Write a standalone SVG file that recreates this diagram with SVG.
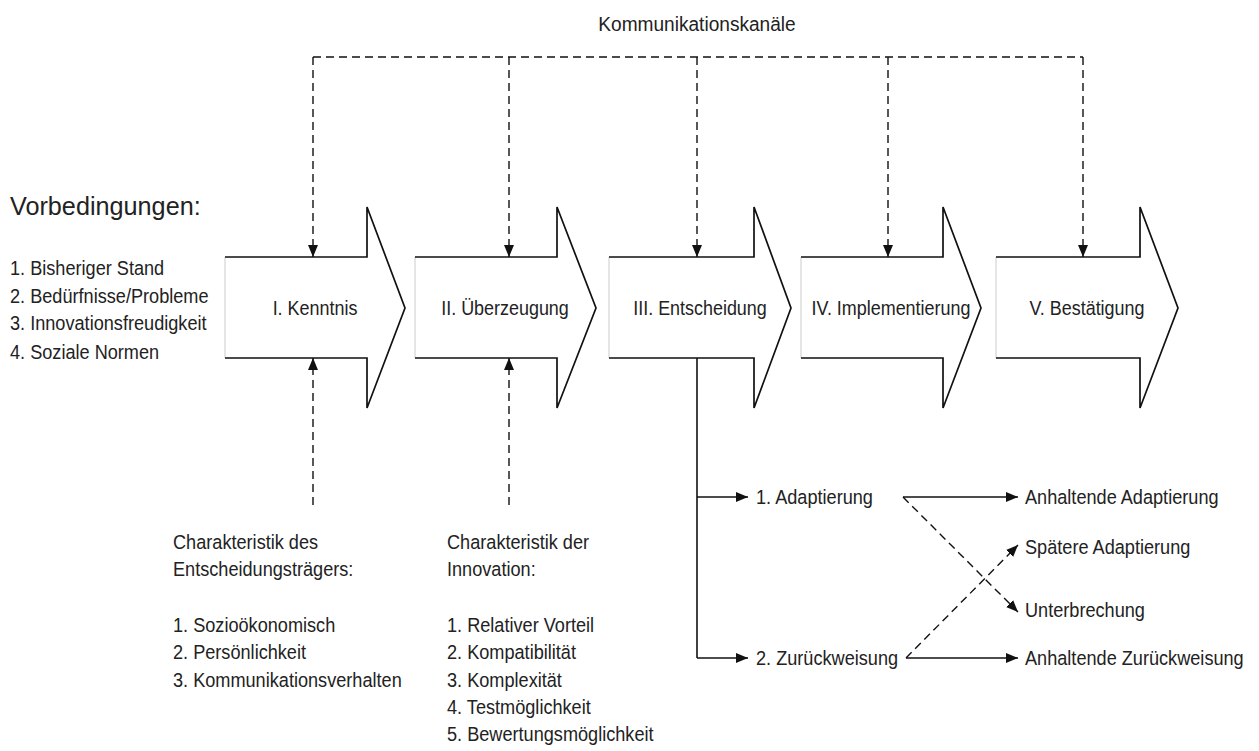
<svg xmlns="http://www.w3.org/2000/svg" width="1259" height="751" viewBox="0 0 1259 751">
  <defs>
    <marker id="head" viewBox="0 0 12 10" refX="12" refY="5" markerWidth="12" markerHeight="10" markerUnits="userSpaceOnUse" orient="auto">
      <path d="M0,0 L12,5 L0,10 Z" fill="#111"/>
    </marker>
    <style>
      text { font-family: "Liberation Sans", Arial, sans-serif; fill: #222; font-size: 20.5px; }
      .lbl { text-anchor: middle; }
      .title { font-size: 26px; }
      .kk { font-size: 21px; text-anchor: middle; }
      .stage { fill: #fff; stroke: none; }
      .edge { fill: none; stroke: #111; stroke-width: 1.7; }
      .faint { fill: none; stroke: #ccc; stroke-width: 1; }
      .solid { fill: none; stroke: #111; stroke-width: 1.6; }
      .dash { fill: none; stroke: #111; stroke-width: 1.4; stroke-dasharray: 8 5; }
    </style>
  </defs>

  <rect width="1259" height="751" fill="#fff"/>

  <!-- process stages -->
  <g id="stage1">
    <polygon class="stage" points="225,257 367,257 367,207 405,308 367,408 367,358 225,358"/>
    <line class="faint" x1="225" y1="257" x2="225" y2="358"/>
    <polyline class="edge" points="225,257 367,257 367,207 405,308 367,408 367,358 225,358"/>
    <text class="lbl" transform="translate(315 315) scale(0.875 1)">I. Kenntnis</text>
  </g>
  <g id="stage2">
    <polygon class="stage" points="415,257 557,257 557,207 596,308 557,408 557,358 415,358"/>
    <line class="faint" x1="415" y1="257" x2="415" y2="358"/>
    <polyline class="edge" points="415,257 557,257 557,207 596,308 557,408 557,358 415,358"/>
    <text class="lbl" transform="translate(505 315) scale(0.875 1)">II. Überzeugung</text>
  </g>
  <g id="stage3">
    <polygon class="stage" points="609,257 754,257 754,207 791,308 754,408 754,358 609,358"/>
    <line class="faint" x1="609" y1="257" x2="609" y2="358"/>
    <polyline class="edge" points="609,257 754,257 754,207 791,308 754,408 754,358 609,358"/>
    <text class="lbl" transform="translate(700 315) scale(0.875 1)">III. Entscheidung</text>
  </g>
  <g id="stage4">
    <polygon class="stage" points="801,257 943,257 943,207 981,308 943,408 943,358 801,358"/>
    <line class="faint" x1="801" y1="257" x2="801" y2="358"/>
    <polyline class="edge" points="801,257 943,257 943,207 981,308 943,408 943,358 801,358"/>
    <text class="lbl" transform="translate(891 315) scale(0.875 1)">IV. Implementierung</text>
  </g>
  <g id="stage5">
    <polygon class="stage" points="996,257 1140,257 1140,207 1178,308 1140,408 1140,358 996,358"/>
    <line class="faint" x1="996" y1="257" x2="996" y2="358"/>
    <polyline class="edge" points="996,257 1140,257 1140,207 1178,308 1140,408 1140,358 996,358"/>
    <text class="lbl" transform="translate(1087 315) scale(0.875 1)">V. Bestätigung</text>
  </g>

  <!-- communication channels -->
  <g id="channels">
    <text class="kk" transform="translate(697 31) scale(0.91 1)">Kommunikationskanäle</text>
  </g>

  <!-- prior conditions -->
  <g id="preconditions">
    <text class="title" transform="translate(10 215) scale(0.97 1)">Vorbedingungen:</text>
    <text transform="translate(10 275) scale(0.885 1)">1. Bisheriger Stand</text>
    <text transform="translate(10 303) scale(0.885 1)">2. Bedürfnisse/Probleme</text>
    <text transform="translate(10 330) scale(0.885 1)">3. Innovationsfreudigkeit</text>
    <text transform="translate(10 359) scale(0.885 1)">4. Soziale Normen</text>
  </g>

  <!-- decision-maker characteristics -->
  <g id="decider">
    <text transform="translate(173 549) scale(0.885 1)">Charakteristik des</text>
    <text transform="translate(173 576) scale(0.885 1)">Entscheidungsträgers:</text>
    <text transform="translate(173 632) scale(0.885 1)">1. Sozioökonomisch</text>
    <text transform="translate(173 659) scale(0.885 1)">2. Persönlichkeit</text>
    <text transform="translate(173 687) scale(0.885 1)">3. Kommunikationsverhalten</text>
  </g>

  <!-- innovation characteristics -->
  <g id="innovation">
    <text transform="translate(447 549) scale(0.885 1)">Charakteristik der</text>
    <text transform="translate(447 576) scale(0.885 1)">Innovation:</text>
    <text transform="translate(447 632) scale(0.885 1)">1. Relativer Vorteil</text>
    <text transform="translate(447 659) scale(0.885 1)">2. Kompatibilität</text>
    <text transform="translate(447 687) scale(0.885 1)">3. Komplexität</text>
    <text transform="translate(447 714) scale(0.885 1)">4. Testmöglichkeit</text>
    <text transform="translate(447 741) scale(0.885 1)">5. Bewertungsmöglichkeit</text>
  </g>

  <!-- decision outcomes -->
  <g id="adoption">
    <text transform="translate(756 504) scale(0.885 1)">1. Adaptierung</text>
  </g>
  <g id="rejection">
    <text transform="translate(756 665) scale(0.885 1)">2. Zurückweisung</text>
  </g>
  <g id="continued-adoption">
    <text transform="translate(1025 504) scale(0.885 1)">Anhaltende Adaptierung</text>
  </g>
  <g id="later-adoption">
    <text transform="translate(1025 554) scale(0.885 1)">Spätere Adaptierung</text>
  </g>
  <g id="discontinuance">
    <text transform="translate(1025 617) scale(0.885 1)">Unterbrechung</text>
  </g>
  <g id="continued-rejection">
    <text transform="translate(1025 665) scale(0.885 1)">Anhaltende Zurückweisung</text>
  </g>

  <!-- connectors -->
  <g id="connectors">
    <line class="dash" x1="313" y1="57" x2="1083" y2="57"/>
    <line class="dash" x1="313" y1="57" x2="313" y2="257" marker-end="url(#head)"/>
    <line class="dash" x1="509" y1="57" x2="509" y2="257" marker-end="url(#head)"/>
    <line class="dash" x1="697" y1="57" x2="697" y2="257" marker-end="url(#head)"/>
    <line class="dash" x1="888" y1="57" x2="888" y2="257" marker-end="url(#head)"/>
    <line class="dash" x1="1083" y1="57" x2="1083" y2="257" marker-end="url(#head)"/>

    <line class="dash" x1="313" y1="505" x2="313" y2="358" marker-end="url(#head)"/>
    <line class="dash" x1="509" y1="505" x2="509" y2="358" marker-end="url(#head)"/>

    <polyline class="solid" points="697,358 697,658"/>
    <line class="solid" x1="697" y1="497" x2="748" y2="497" marker-end="url(#head)"/>
    <line class="solid" x1="697" y1="658" x2="748" y2="658" marker-end="url(#head)"/>

    <line class="solid" x1="903" y1="497" x2="1018" y2="497" marker-end="url(#head)"/>
    <line class="solid" x1="906" y1="658" x2="1018" y2="658" marker-end="url(#head)"/>
    <line class="dash" x1="903" y1="497" x2="1018" y2="612" marker-end="url(#head)"/>
    <line class="dash" x1="906" y1="658" x2="1018" y2="545" marker-end="url(#head)"/>
  </g>
</svg>
